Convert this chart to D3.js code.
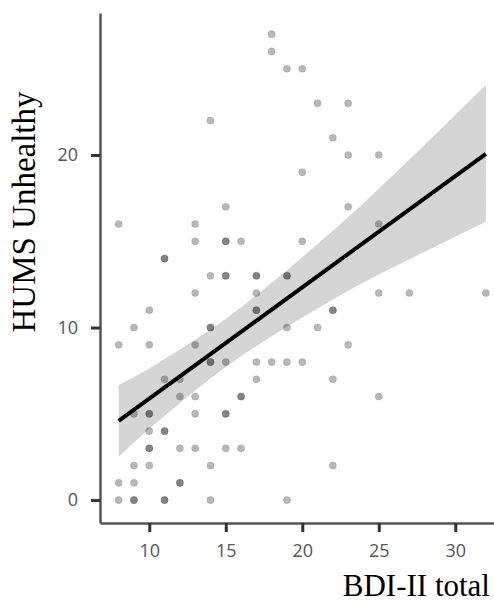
<!DOCTYPE html>
<html>
<head>
<meta charset="utf-8">
<script src="https://cdn.jsdelivr.net/npm/d3@7"></script>
<style>
    body { margin: 0; background: #fff; }
    svg { display: block; }
</style>
</head>
<body>
<svg id="chart" width="494" height="605"></svg>
<script>
// BDI-II total (x), HUMS Unhealthy (y), how many people sit on each dot
const bdi = [8, 8, 8, 8, 9, 9, 9, 9, 9, 10, 10, 10, 10, 10, 10, 11, 11, 11, 11,
    12, 12, 12, 12, 13, 13, 13, 13, 13, 13, 13, 14, 14, 14, 14, 14, 14,
    15, 15, 15, 15, 15, 15, 16, 16, 16, 17, 17, 17, 17, 17, 18, 18, 18,
    19, 19, 19, 19, 19, 20, 20, 20, 20, 21, 21, 22, 22, 22, 22,
    23, 23, 23, 23, 25, 25, 25, 25, 27, 32]
const hums = [0, 1, 9, 16, 0, 1, 2, 5, 10, 2, 3, 4, 5, 9, 11, 0, 4, 7, 14,
    1, 3, 6, 7, 3, 5, 6, 9, 12, 15, 16, 0, 2, 8, 10, 13, 22,
    3, 5, 8, 13, 15, 17, 3, 6, 15, 7, 8, 11, 12, 13, 8, 26, 27,
    0, 8, 10, 13, 25, 8, 15, 19, 25, 10, 23, 2, 7, 11, 21,
    9, 17, 20, 23, 6, 12, 16, 20, 12, 12]
const overlap = [1, 1, 1, 1, 2, 1, 1, 1, 1, 1, 2, 1, 2, 1, 1, 2, 2, 1, 2,
    2, 1, 1, 1, 1, 1, 1, 1, 1, 1, 1, 1, 1, 2, 2, 1, 1,
    1, 2, 1, 2, 2, 1, 1, 2, 1, 1, 1, 2, 1, 2, 1, 1, 1,
    1, 1, 1, 2, 1, 1, 1, 1, 1, 1, 1, 1, 1, 2, 1,
    1, 1, 1, 1, 1, 1, 1, 1, 1, 1]

// linear fit and its confidence band
const fit_x = [8, 32]
const fit_y = [4.59, 20.07]
const band_x = [8, 10, 12, 14, 16, 18, 20, 24, 28, 32]
const band_lo = [2.51, 4.13, 5.62, 7.04, 8.33, 9.49, 10.58, 12.61, 14.39, 16.13]
const band_hi = [6.67, 7.63, 8.72, 9.88, 11.17, 12.59, 14.08, 17.21, 20.59, 24.06]

const x_ticks = [10, 15, 20, 25, 30]
const y_ticks = [0, 10, 20]

const svg = d3.select("#chart")

var xScale = d3.scaleLinear().domain([6.78, 32.53]).range([100, 494])
var yScale = d3.scaleLinear().domain([-1.33, 28.23]).range([523, 13])

// confidence band
const band = band_x.map((v, i) => ({ x: v, lo: band_lo[i], hi: band_hi[i] }))
svg.append("path")
    .datum(band)
    .attr("fill", "#d5d5d5")
    .attr("d", d3.area()
        .curve(d3.curveMonotoneX)
        .x(d => xScale(d.x))
        .y0(d => yScale(d.lo))
        .y1(d => yScale(d.hi)))

// points, one circle per person so stacked ones come out darker
const points = []
for (let i = 0; i < bdi.length; i++)
    for (let k = 0; k < overlap[i]; k++)
        points.push({ x: bdi[i], y: hums[i] })

svg.append("g")
    .selectAll("circle")
    .data(points)
    .join("circle")
        .attr("cx", d => xScale(d.x))
        .attr("cy", d => yScale(d.y))
        .attr("r", 3.6)
        .attr("fill", "#000")
        .attr("fill-opacity", 0.28)
        .attr("stroke", "#000")
        .attr("stroke-opacity", 0.1)
        .attr("stroke-width", 1)

// fit line
svg.append("path")
    .datum(fit_x.map((v, i) => [v, fit_y[i]]))
    .attr("fill", "none")
    .attr("stroke", "#000")
    .attr("stroke-width", 4)
    .attr("d", d3.line().x(d => xScale(d[0])).y(d => yScale(d[1])))

// axes
const xAxis = svg.append("g")
    .attr("transform", "translate(0,523)")
    .call(d3.axisBottom(xScale).tickValues(x_ticks).tickSize(9).tickSizeOuter(0).tickPadding(12))
const yAxis = svg.append("g")
    .attr("transform", "translate(100,0)")
    .call(d3.axisLeft(yScale).tickValues(y_ticks).tickSize(9).tickSizeOuter(0).tickPadding(13))

for (const ax of [xAxis, yAxis]) {
    ax.select(".domain").attr("stroke", "#555").attr("stroke-width", 2.5)
    ax.selectAll(".tick line").attr("stroke", "#333").attr("stroke-width", 3)
    ax.selectAll(".tick text")
        .attr("fill", "#555")
        .attr("font-family", "'Open Sans', sans-serif")
        .attr("font-size", 18)
}

// axis titles
svg.append("text")
    .attr("transform", "translate(35,212) rotate(-90)")
    .attr("text-anchor", "middle")
    .attr("font-family", "'Liberation Serif', 'Times New Roman', serif")
    .attr("font-size", 33)
    .attr("fill", "#000")
    .text("HUMS Unhealthy")

svg.append("text")
    .attr("x", 490)
    .attr("y", 596)
    .attr("text-anchor", "end")
    .attr("font-family", "'Liberation Serif', 'Times New Roman', serif")
    .attr("font-size", 31)
    .attr("fill", "#000")
    .text("BDI-II total")
</script>
</body>
</html>
